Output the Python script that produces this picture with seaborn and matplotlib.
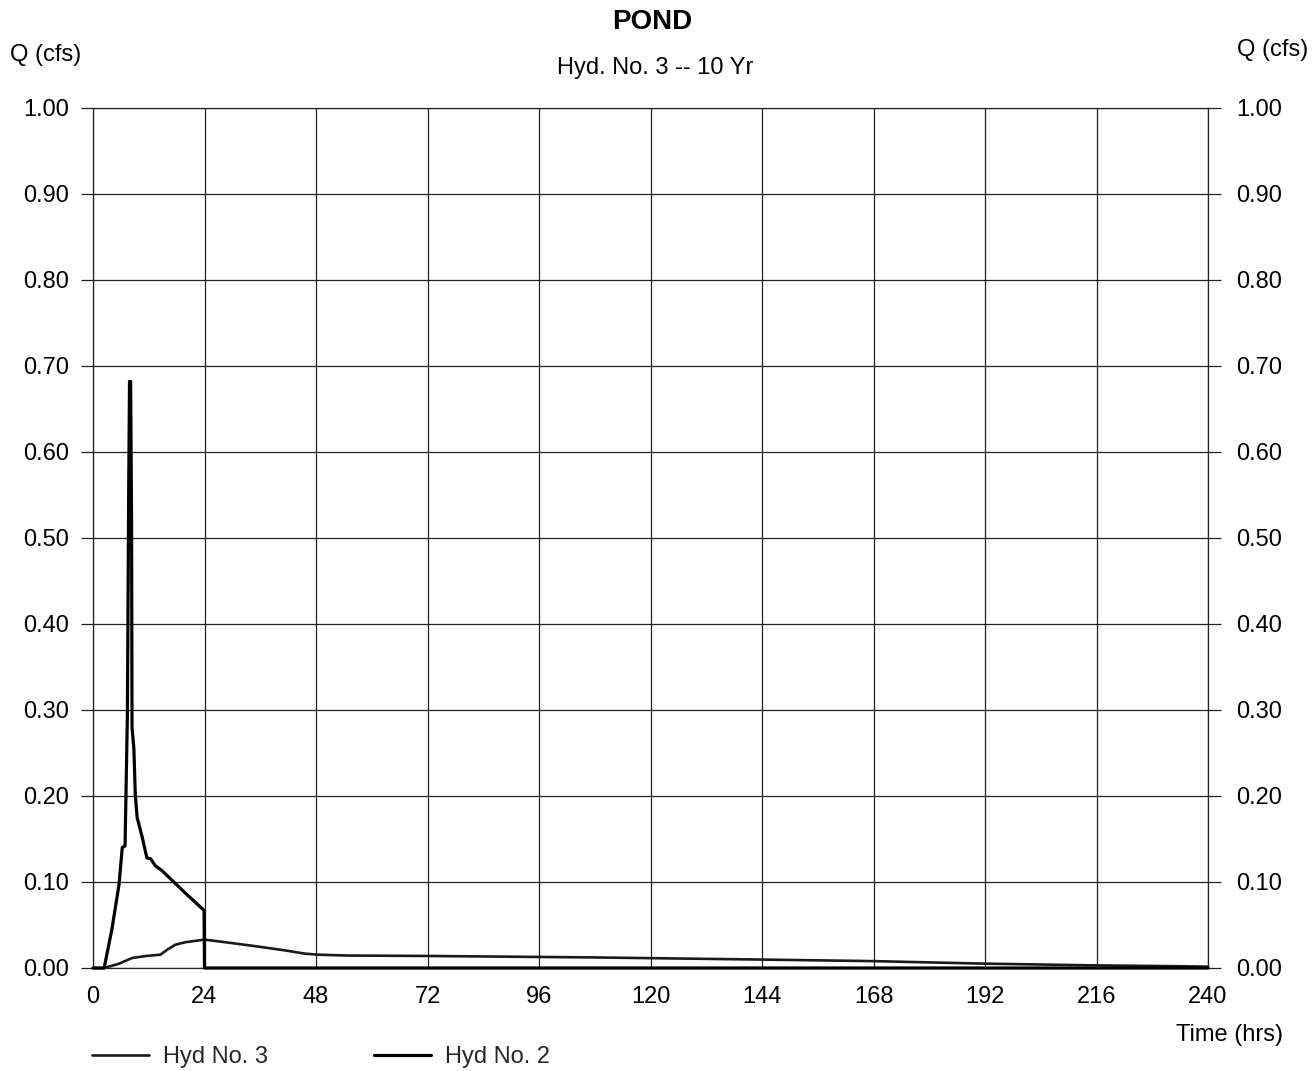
import matplotlib
matplotlib.use("Agg")
import matplotlib.pyplot as plt
import matplotlib.transforms as mtransforms
import seaborn as sns
import pandas as pd
from matplotlib.ticker import FormatStrFormatter

# ---- data ----
hyd2_time = [0, 2.4, 4.1, 5.6, 6.3, 6.9, 7.1, 7.4, 7.7, 7.86, 8.1, 8.3, 8.4, 8.8, 9.1,
             9.5, 10.6, 11.6, 12.4, 13.4, 14.9, 19.9, 23.9, 24.0, 240]
hyd2_q = [0, 0, 0.046, 0.097, 0.140, 0.142, 0.202, 0.294, 0.57, 0.682, 0.682, 0.52, 0.28,
          0.255, 0.202, 0.175, 0.152, 0.128, 0.127, 0.119, 0.113, 0.087, 0.067, 0.0, 0.0]

hyd3_time = [0, 2.4, 5.6, 8.4, 11.3, 14.5, 16.1, 17.7, 19.9, 24, 28.4, 34.1, 41.3, 45.6,
             48.4, 54.6, 71.8, 107.6, 144, 168, 176, 191.6, 215, 234.6, 240]
hyd3_q = [0, 0, 0.005, 0.0116, 0.0139, 0.0155, 0.0217, 0.027, 0.030, 0.033, 0.030, 0.026,
          0.0205, 0.0167, 0.0155, 0.0145, 0.014, 0.0123, 0.0098, 0.008, 0.007, 0.0051,
          0.0031, 0.002, 0.0015]

x_ticks = [0, 24, 48, 72, 96, 120, 144, 168, 192, 216, 240]
y_ticks = [0.0, 0.1, 0.2, 0.3, 0.4, 0.5, 0.6, 0.7, 0.8, 0.9, 1.0]

title = "POND"
subtitle = "Hyd. No. 3 -- 10 Yr"
ylabel = "Q (cfs)"
xlabel = "Time (hrs)"
label3 = "Hyd No. 3"
label2 = "Hyd No. 2"

# ---- styling ----
sns.set_theme(style="white")
plt.rcParams["font.family"] = ["Liberation Sans", "DejaVu Sans"]
FS = 17

W, H = 1313, 1071
fig = plt.figure(figsize=(W / 100, H / 100), dpi=100)
L, R, T, B = 93, 1208, 108, 968
ax = fig.add_axes([L / W, 1 - B / H, (R - L) / W, (B - T) / H])

df3 = pd.DataFrame({"t": hyd3_time, "q": hyd3_q})
df2 = pd.DataFrame({"t": hyd2_time, "q": hyd2_q})
sns.lineplot(data=df3, x="t", y="q", ax=ax, color="#1a1a1a", lw=1.9,
             estimator=None, sort=False, label=label3, clip_on=False, zorder=3)
sns.lineplot(data=df2, x="t", y="q", ax=ax, color="black", lw=2.3,
             estimator=None, sort=False, label=label2, clip_on=False, zorder=4)

ax.set_xlim(0, 240)
ax.set_ylim(0, 1.0)
ax.set_xticks(x_ticks)
ax.set_yticks(y_ticks)
ax.yaxis.set_major_formatter(FormatStrFormatter("%.2f"))
ax.grid(True, color="#222222", lw=0.9)
for s in ax.spines.values():
    s.set_color("#222222")
    s.set_linewidth(0.9)
ax.set_xlabel("")
ax.set_ylabel("")

ax.tick_params(axis="x", length=0, pad=13, labelsize=FS, colors="black")
ax.tick_params(axis="y", which="both", left=True, right=True, labelleft=True,
               labelright=True, length=9, width=0.9, direction="out",
               color="#222222", pad=8, labelsize=FS, labelcolor="black")
# shift right-hand labels a little further out
shift = mtransforms.ScaledTranslation(5 / 100, 0, fig.dpi_scale_trans)
for tick in ax.yaxis.get_major_ticks():
    tick.label2.set_transform(tick.label2.get_transform() + shift)

# legend
h, l = ax.get_legend_handles_labels()
ax.get_legend().remove()
fig.legend(h, l, loc="center left", bbox_to_anchor=(92 / W, 1 - 1057 / H),
           ncol=2, frameon=False, fontsize=FS, handlelength=2.4,
           handletextpad=0.6, columnspacing=4.5, borderpad=0, borderaxespad=0)

# texts
fig.text(652 / W, 1 - 22 / H, title, ha="center", va="center", fontsize=20,
         fontweight="bold", color="black")
fig.text(655 / W, 1 - 68 / H, subtitle, ha="center", va="center", fontsize=FS,
         color="black")
fig.text(10 / W, 1 - 55 / H, ylabel, ha="left", va="center", fontsize=FS, color="black")
fig.text(1308 / W, 1 - 50 / H, ylabel, ha="right", va="center", fontsize=FS, color="black")
fig.text(1283 / W, 1 - 1035 / H, xlabel, ha="right", va="center", fontsize=FS, color="black")

fig.savefig("out.png", dpi=100, facecolor="white")
